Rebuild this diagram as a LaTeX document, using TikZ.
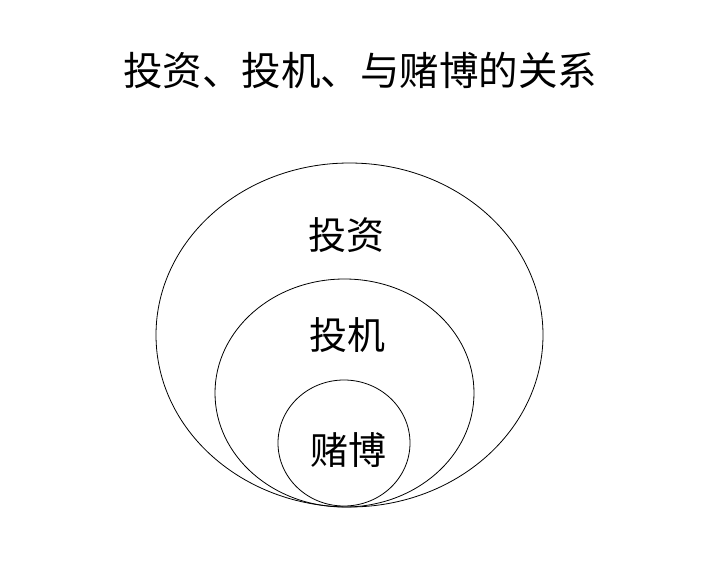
\documentclass[tikz,border=0pt]{standalone}
\usepackage{fontspec}
\newfontfamily\cjk{Noto Sans CJK SC}
\usetikzlibrary{shapes.geometric}

\begin{document}
\begin{tikzpicture}[x=1pt, y=-1pt, line width=0.8pt,
	lbl/.style={font=\cjk\fontsize{38}{38}\selectfont, inner sep=0pt},
	ring/.style={draw, ellipse, inner sep=0pt}]
	\useasboundingbox (0,0) rectangle (720,570);
	\path (360, 70) node[lbl, font=\cjk\fontsize{39.5}{39.5}\selectfont] (title){投资、投机、与赌博的关系};
	
	\path (349.5, 335) node[ring, minimum width=387pt, minimum height=344pt] (e1){}
	(344.5, 393) node[ring, minimum width=259pt, minimum height=228pt] (e2){}
	(344, 443) node[ring, minimum width=132pt, minimum height=126pt] (e3){};
	
	\path (346, 235) node[lbl] (t1){投资}
	(347, 335) node[lbl] (t2){投机}
	(348, 450) node[lbl] (t3){赌博};
\end{tikzpicture}
\end{document}
